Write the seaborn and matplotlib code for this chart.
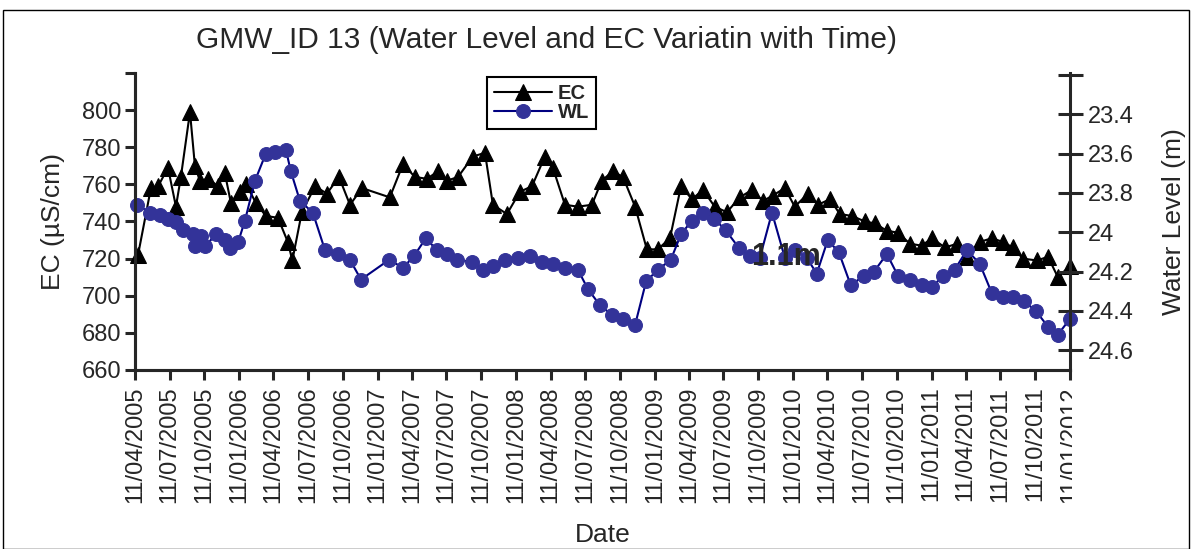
import pandas as pd
import seaborn as sns
import matplotlib.pyplot as plt
import matplotlib.dates as mdates
from matplotlib.patches import Rectangle
from matplotlib.ticker import FuncFormatter
from matplotlib.transforms import Bbox

# EC samples (uS/cm)
ec_dates = ['2005-04-19', '2005-05-23', '2005-06-11', '2005-07-07', '2005-07-28', '2005-08-10',
            '2005-09-03', '2005-09-16', '2005-09-29', '2005-10-21', '2005-11-16', '2005-12-04',
            '2005-12-20', '2006-01-13', '2006-01-29', '2006-02-24', '2006-03-22', '2006-04-23',
            '2006-05-19', '2006-05-31', '2006-06-25', '2006-07-30', '2006-08-30', '2006-10-01',
            '2006-10-30', '2006-12-01', '2007-02-12', '2007-03-19', '2007-04-19', '2007-05-21',
            '2007-06-19', '2007-07-13', '2007-08-11', '2007-09-19', '2007-10-21', '2007-11-11',
            '2007-12-18', '2008-01-21', '2008-02-22', '2008-03-27', '2008-04-17', '2008-05-19',
            '2008-06-22', '2008-07-29', '2008-08-24', '2008-09-22', '2008-10-19', '2008-11-20',
            '2008-12-21', '2009-01-19', '2009-02-20', '2009-03-21', '2009-04-19', '2009-05-18',
            '2009-06-18', '2009-07-20', '2009-08-23', '2009-09-24', '2009-10-23', '2009-11-18',
            '2009-12-20', '2010-01-15', '2010-02-19', '2010-03-17', '2010-04-18', '2010-05-14',
            '2010-06-15', '2010-07-19', '2010-08-14', '2010-09-15', '2010-10-14', '2010-11-15',
            '2010-12-16', '2011-01-12', '2011-02-15', '2011-03-19', '2011-04-14', '2011-05-18',
            '2011-06-19', '2011-07-18', '2011-08-13', '2011-09-09', '2011-10-16', '2011-11-14',
            '2011-12-10', '2012-01-11']
ec_values = [722, 758, 759, 769, 748, 764, 799, 770, 762, 763, 759, 766,
             750, 756, 760, 750, 743, 742, 729, 719, 745, 759, 755, 764,
             749, 758, 753, 771, 764, 763, 767, 762, 764, 775, 777, 749,
             744, 756, 759, 775, 769, 749, 748, 749, 762, 767, 764, 748,
             725, 725, 731, 759, 752, 757, 748, 745, 753, 757, 751, 754,
             758, 748, 755, 749, 752, 744, 743, 740, 739, 735, 734, 728,
             727, 731, 726, 728, 721, 729, 731, 729, 726, 720, 719, 721,
             710, 716]

# water level samples (m)
wl_dates = ['2005-04-16', '2005-05-21', '2005-06-16', '2005-07-07', '2005-07-28', '2005-08-16',
            '2005-09-11', '2005-09-16', '2005-10-02', '2005-10-13', '2005-11-11', '2005-12-04',
            '2005-12-18', '2006-01-08', '2006-01-26', '2006-02-21', '2006-03-22', '2006-04-15',
            '2006-05-14', '2006-05-27', '2006-06-20', '2006-07-24', '2006-08-25', '2006-09-28',
            '2006-10-30', '2006-11-28', '2007-02-10', '2007-03-19', '2007-04-17', '2007-05-18',
            '2007-06-16', '2007-07-13', '2007-08-08', '2007-09-17', '2007-10-16', '2007-11-11',
            '2007-12-13', '2008-01-16', '2008-02-17', '2008-03-19', '2008-04-17', '2008-05-19',
            '2008-06-22', '2008-07-19', '2008-08-19', '2008-09-20', '2008-10-19', '2008-11-20',
            '2008-12-19', '2009-01-19', '2009-02-22', '2009-03-21', '2009-04-19', '2009-05-18',
            '2009-06-16', '2009-07-17', '2009-08-21', '2009-09-19', '2009-10-15', '2009-11-16',
            '2009-12-20', '2010-01-15', '2010-02-16', '2010-03-14', '2010-04-12', '2010-05-11',
            '2010-06-12', '2010-07-16', '2010-08-12', '2010-09-15', '2010-10-14', '2010-11-15',
            '2010-12-16', '2011-01-12', '2011-02-10', '2011-03-13', '2011-04-14', '2011-05-18',
            '2011-06-19', '2011-07-18', '2011-08-13', '2011-09-11', '2011-10-13', '2011-11-14',
            '2011-12-10', '2012-01-11']
wl_values = [23.86, 23.90, 23.91, 23.93, 23.95, 23.99, 24.01, 24.07, 24.02, 24.07, 24.01, 24.04,
             24.08, 24.05, 23.94, 23.74, 23.60, 23.59, 23.58, 23.69, 23.84, 23.90, 24.09, 24.11,
             24.14, 24.24, 24.14, 24.18, 24.12, 24.03, 24.09, 24.11, 24.14, 24.15, 24.19, 24.17,
             24.14, 24.13, 24.12, 24.15, 24.16, 24.18, 24.19, 24.29, 24.37, 24.42, 24.44, 24.47,
             24.25, 24.19, 24.14, 24.01, 23.94, 23.90, 23.93, 23.99, 24.08, 24.12, 24.13, 23.90,
             24.13, 24.09, 24.13, 24.21, 24.04, 24.10, 24.27, 24.22, 24.20, 24.11, 24.22, 24.24,
             24.27, 24.28, 24.22, 24.19, 24.09, 24.16, 24.31, 24.33, 24.33, 24.35, 24.40, 24.48,
             24.52, 24.44]

ec_ticks = [660, 680, 700, 720, 740, 760, 780, 800, 820]
wl_ticks = [23.2, 23.4, 23.6, 23.8, 24.0, 24.2, 24.4, 24.6]

df_ec = pd.DataFrame({'Date': pd.to_datetime(ec_dates), 'EC': ec_values})
df_wl = pd.DataFrame({'Date': pd.to_datetime(wl_dates), 'WL': wl_values})

sns.set_style("ticks")
plt.rcParams['font.family'] = ['Liberation Sans', 'DejaVu Sans']

fig = plt.figure(figsize=(11.92, 5.49), dpi=100)
ax = fig.add_axes([135 / 1192, 1 - 370 / 549, 935 / 1192, 297 / 549])
ax2 = ax.twinx()

sns.lineplot(data=df_ec, x='Date', y='EC', ax=ax, color='black', marker='^',
             markersize=12, markeredgecolor='black', linewidth=1.5,
             estimator=None, clip_on=False, label='EC', legend=False)
sns.lineplot(data=df_wl, x='Date', y='WL', ax=ax2, color='#000080', marker='o',
             markersize=10, markerfacecolor='#333399', markeredgecolor='#333399',
             linewidth=1.5, estimator=None, clip_on=False, label='WL', legend=False)

ax.set_xlim(pd.Timestamp('2005-04-11'), pd.Timestamp('2012-01-11'))
ax.xaxis.set_major_locator(mdates.MonthLocator(bymonth=(1, 4, 7, 10), bymonthday=11))
ax.xaxis.set_major_formatter(mdates.DateFormatter('%d/%m/%Y'))
ax.tick_params(axis='x', labelrotation=90, labelsize=17, direction='out',
               length=7, width=2.2, pad=5)

ax.set_ylim(660, 820)
ax.set_yticks(ec_ticks)
ax.set_yticklabels([str(t) if t < 820 else '' for t in ec_ticks])
ax.tick_params(axis='y', labelsize=17, direction='out', length=7, width=2.2, pad=3)

ax2.set_ylim(24.7, 23.19)
ax2.set_yticks(wl_ticks)
ax2.yaxis.set_major_formatter(FuncFormatter(lambda v, p: '' if v < 23.3 else f'{v:g}'))
ax2.tick_params(axis='y', labelsize=17, direction='inout', length=18, width=2.2, pad=4)

for a in (ax, ax2):
    a.spines['top'].set_visible(False)
    for s in ('left', 'right', 'bottom'):
        a.spines[s].set_linewidth(2.2)
ax.spines['right'].set_visible(False)

ax.set_xlabel('Date', fontsize=19, labelpad=14)
ax.set_ylabel('EC (µS/cm)', fontsize=19, labelpad=12)
ax2.set_ylabel('Water Level (m)', fontsize=19, labelpad=20)

fig.text(547 / 1192, 1 - 40 / 549, 'GMW_ID 13 (Water Level and EC Variatin with Time)',
         ha='center', va='center', fontsize=21.5)
ax2.text(786 / 1192, 1 - 257 / 549, '1.1m', ha='center', va='center',
         fontsize=22, fontweight='bold', zorder=10, transform=fig.transFigure)

handles = [ax.get_lines()[0], ax2.get_lines()[0]]
leg = ax2.legend(handles, ['EC', 'WL'], loc='upper left',
                 bbox_to_anchor=(487 / 1192, 1 - 77 / 549), bbox_transform=fig.transFigure,
                 fancybox=False, framealpha=1, edgecolor='black', borderpad=0.35,
                 borderaxespad=0, labelspacing=0.0, handlelength=2.9, handletextpad=0.25,
                 prop={'weight': 'bold', 'size': 14.5})
leg.get_frame().set_linewidth(1.5)
leg.set_zorder(20)

# chart border
fig.patches.append(Rectangle((3 / 1192, 0), 1186 / 1192, 1 - 10 / 549, transform=fig.transFigure,
                             fill=False, edgecolor='black', linewidth=1))

# last date label is cut off at the chart edge in the source
fig.canvas.draw()
for lab in ax.get_xticklabels():
    if lab.get_text() == '11/01/2012':
        lab.set_clip_box(Bbox.from_extents(0, 0, 1072, 549))
        lab.set_clip_on(True)

fig.savefig('out.png', dpi=100)
